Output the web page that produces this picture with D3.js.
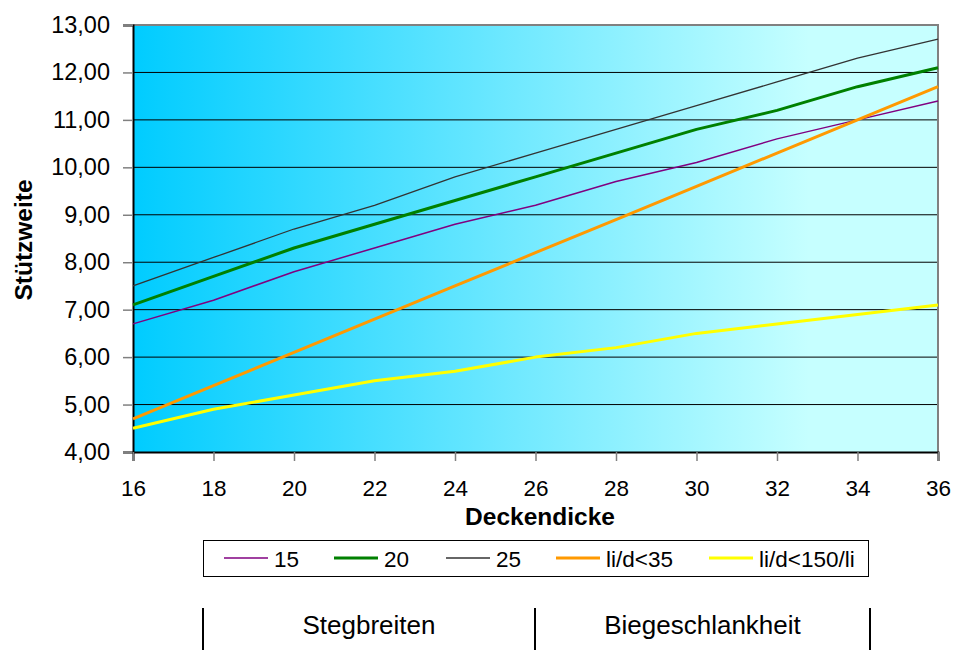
<!DOCTYPE html>
<html>
<head>
<meta charset="utf-8">
<script src="https://cdn.jsdelivr.net/npm/d3@7"></script>
<style>
  body { margin: 0; background: #fff; }
  svg { display: block; font-family: Arial, "Liberation Sans", sans-serif; }
</style>
</head>
<body>
<div id="chart"></div>
<script>
const deckendicke = [16, 18, 20, 22, 24, 26, 28, 30, 32, 34, 36];
const steg15 = [6.7, 7.2, 7.8, 8.3, 8.8, 9.2, 9.7, 10.1, 10.6, 11.0, 11.4];
const steg20 = [7.1, 7.7, 8.3, 8.8, 9.3, 9.8, 10.3, 10.8, 11.2, 11.7, 12.1];
const steg25 = [7.5, 8.1, 8.7, 9.2, 9.8, 10.3, 10.8, 11.3, 11.8, 12.3, 12.7];
const lid35 = [4.7, 5.4, 6.1, 6.8, 7.5, 8.2, 8.9, 9.6, 10.3, 11.0, 11.7];
const lid150 = [4.5, 4.9, 5.2, 5.5, 5.7, 6.0, 6.2, 6.5, 6.7, 6.9, 7.1];
const xTicks = [16, 18, 20, 22, 24, 26, 28, 30, 32, 34, 36];
const yTicks = [4, 5, 6, 7, 8, 9, 10, 11, 12, 13];
const groupLabels = ["Stegbreiten", "Biegeschlankheit"];

const series = [
  { name: "15", values: steg15, color: "#800080", width: 1.5 },
  { name: "20", values: steg20, color: "#008000", width: 3 },
  { name: "25", values: steg25, color: "#333333", width: 1.3 },
  { name: "li/d<35", values: lid35, color: "#FF9900", width: 3 },
  { name: "li/d<150/li", values: lid150, color: "#FFFF00", width: 3 }
];

const W = 955, H = 650;
const margin = { top: 25, left: 133, right: 17, bottom: 198 };
const width = W - margin.left - margin.right;
const height = H - margin.top - margin.bottom;

const svg = d3.select("#chart").append("svg")
  .attr("width", W)
  .attr("height", H);

const defs = svg.append("defs");
const grad = defs.append("linearGradient")
  .attr("id", "bg")
  .attr("x1", "0%").attr("x2", "100%")
  .attr("y1", "0%").attr("y2", "0%");
grad.append("stop").attr("offset", "0%").attr("stop-color", "#00CCFF");
grad.append("stop").attr("offset", "84%").attr("stop-color", "#C6FFFF");
grad.append("stop").attr("offset", "100%").attr("stop-color", "#C6FFFF");

const g = svg.append("g")
  .attr("transform", `translate(${margin.left}, ${margin.top})`);

const x = d3.scaleLinear().domain([16, 36]).range([0, width]);
const y = d3.scaleLinear().domain([4, 13]).range([height, 0]);

g.append("rect")
  .attr("width", width)
  .attr("height", height)
  .attr("fill", "url(#bg)");

// grid lines
g.append("g")
  .selectAll("line")
  .data(yTicks.filter(d => d > 4 && d < 13))
  .join("line")
    .attr("x1", 0).attr("x2", width)
    .attr("y1", d => y(d)).attr("y2", d => y(d))
    .attr("stroke", "#000")
    .attr("stroke-width", 1);

// top and right border
g.append("path")
  .attr("d", `M0,${y(13)}H${width}V${height}`)
  .attr("fill", "none")
  .attr("stroke", "#808080")
  .attr("stroke-width", 2);

const fmt = d => d3.format(".2f")(d).replace(".", ",");

const yAxis = g.append("g")
  .call(d3.axisLeft(y).tickValues(yTicks).tickFormat(fmt).tickSize(10).tickPadding(13));
yAxis.select(".domain").attr("stroke", "#000").attr("stroke-width", 2);
yAxis.selectAll(".tick line").attr("stroke", "#808080").attr("stroke-width", 1.5);
yAxis.selectAll(".tick text").attr("font-size", 23.5).attr("fill", "#000");

const xAxis = g.append("g")
  .attr("transform", `translate(0, ${height})`)
  .call(d3.axisBottom(x).tickValues(xTicks).tickSize(9).tickPadding(19));
xAxis.select(".domain").attr("stroke", "#000").attr("stroke-width", 2);
xAxis.selectAll(".tick line").attr("stroke", "#808080").attr("stroke-width", 1.5);
xAxis.selectAll(".tick text").attr("font-size", 22.5).attr("fill", "#000");

const line = d3.line()
  .x((d, i) => x(deckendicke[i]))
  .y(d => y(d));

g.selectAll(".series")
  .data(series)
  .join("path")
    .attr("class", "series")
    .attr("fill", "none")
    .attr("stroke", d => d.color)
    .attr("stroke-width", d => d.width)
    .attr("stroke-linejoin", "round")
    .attr("d", d => line(d.values));

// axis titles
svg.append("text")
  .attr("transform", `translate(32, 240) rotate(-90)`)
  .attr("text-anchor", "middle")
  .attr("font-size", 24.5)
  .attr("font-weight", "bold")
  .text("Stützweite");

svg.append("text")
  .attr("x", 540)
  .attr("y", 525)
  .attr("text-anchor", "middle")
  .attr("font-size", 24.5)
  .attr("font-weight", "bold")
  .text("Deckendicke");

// legend
const legend = svg.append("g");
legend.append("rect")
  .attr("x", 203.5).attr("y", 540.5)
  .attr("width", 665).attr("height", 36)
  .attr("fill", "#fff")
  .attr("stroke", "#000")
  .attr("stroke-width", 1);

const legendX = [224, 334, 446, 556, 709];
const item = legend.selectAll(".item")
  .data(series)
  .join("g")
    .attr("class", "item")
    .attr("transform", (d, i) => `translate(${legendX[i]}, 558)`);
item.append("line")
  .attr("x1", 0).attr("x2", 44)
  .attr("stroke", d => d.color)
  .attr("stroke-width", d => Math.max(d.width, 1.5));
item.append("text")
  .attr("x", 50)
  .attr("y", 9)
  .attr("font-size", 22.5)
  .text(d => d.name);

// bottom group labels
const sep = [203, 535, 870];
svg.append("g").selectAll("line")
  .data(sep)
  .join("line")
    .attr("x1", d => d).attr("x2", d => d)
    .attr("y1", 608).attr("y2", 650)
    .attr("stroke", "#000")
    .attr("stroke-width", 2);

svg.append("g").selectAll("text")
  .data(groupLabels)
  .join("text")
    .attr("x", (d, i) => (sep[i] + sep[i + 1]) / 2)
    .attr("y", 634)
    .attr("text-anchor", "middle")
    .attr("font-size", 26)
    .text(d => d);
</script>
</body>
</html>
